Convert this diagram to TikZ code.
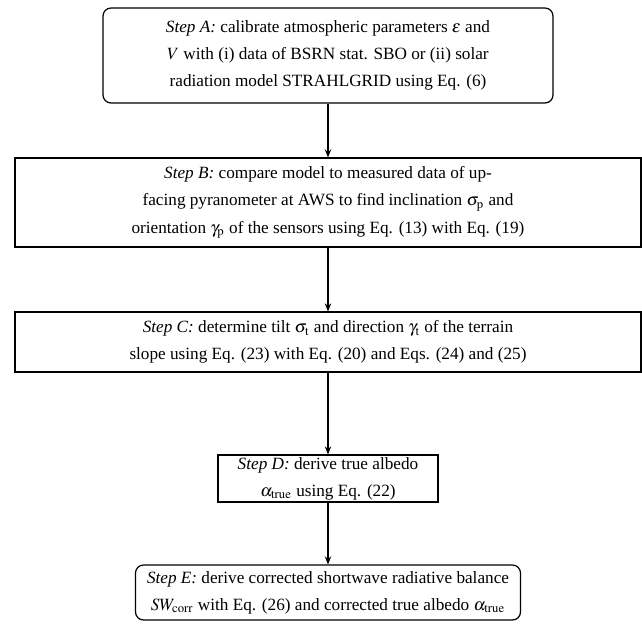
\documentclass[tikz,border=0pt]{standalone}
\usepackage{amsmath}
\usepackage{mathptmx}
\usepackage{fontspec}
\setmainfont{Liberation Serif}
\usepackage{tikz}
\usetikzlibrary{arrows.meta}

\begin{document}
\begin{tikzpicture}[x=0.5pt,y=-0.5pt]
    \useasboundingbox (0,0) rectangle (642,627);

        % step boxes, centre and size in px of the figure
        \begin{scope}[every node/.style={draw=black, line width=0.6pt, align=center,
                  inner sep=0pt, font=\fontsize{8.6}{13.6}\selectfont}]
        \node[rounded corners=4pt, minimum width=225pt, minimum height=47.5pt] (A) at (328,55.5)
            {\textit{Step A:} calibrate atmospheric parameters $\varepsilon$ and\\
             $V$ with (i) data of BSRN stat. SBO or (ii) solar\\
             radiation model STRAHLGRID using Eq. (6)};
        \node[minimum width=313pt, minimum height=44.5pt] (B) at (328,202.5)
            {\textit{Step B:} compare model to measured data of up-\\
             facing pyranometer at AWS to find inclination $\sigma_{\mathrm{p}}$ and\\
             orientation $\gamma_{\mathrm{p}}$ of the sensors using Eq. (13) with Eq. (19)};
        \node[minimum width=313pt, minimum height=30pt] (C) at (328,342)
            {\textit{Step C:} determine tilt $\sigma_{\mathrm{t}}$ and direction $\gamma_{\mathrm{t}}$ of the terrain\\
             slope using Eq. (23) with Eq. (20) and Eqs. (24) and (25)};
        \node[minimum width=110pt, minimum height=23.5pt] (D) at (328,478.5)
            {\textit{Step D:} derive true albedo\\
             $\alpha_{\mathrm{true}}$ using Eq. (22)};
        \node[rounded corners=4pt, minimum width=192.5pt, minimum height=27.5pt] (E) at (328,592.5)
            {\textit{Step E:} derive corrected shortwave radiative balance\\
             $SW_{\mathrm{corr}}$ with Eq. (26) and corrected true albedo $\alpha_{\mathrm{true}}$};
        \end{scope}

        % arrows between the steps
        \begin{scope}[>={Stealth[black, length=4pt, width=3.2pt]},
                  every edge/.style={draw=black, line width=0.6pt}]
        \path [->] (A) edge (B);
        \path [->] (B) edge (C);
        \path [->] (C) edge (D);
        \path [->] (D) edge (E);
        \end{scope}

\end{tikzpicture}
\end{document}
